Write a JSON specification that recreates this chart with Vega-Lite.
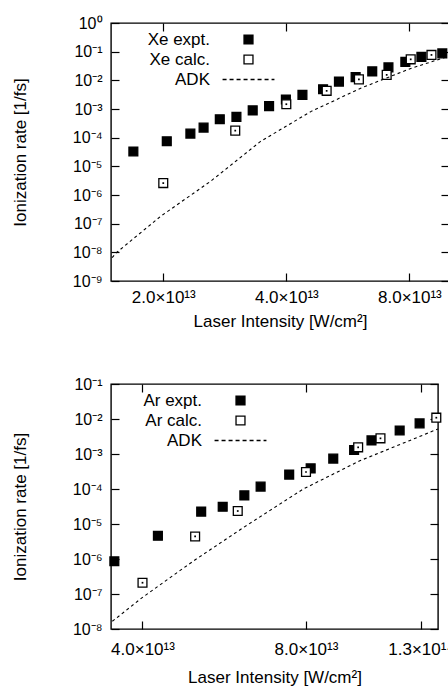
{
  "$schema": "https://vega.github.io/schema/vega-lite/v6.json",
  "padding": {"left": 10, "top": 14, "right": 0, "bottom": 0},
  "vconcat": [
    {
      "width": 338,
      "height": 258,
      "data": {"values": [
        {"I": 1.69e13, "rate": 3.3e-5, "series": "Xe expt."},
        {"I": 2.04e13, "rate": 7.5e-5, "series": "Xe expt."},
        {"I": 2.33e13, "rate": 1.39e-4, "series": "Xe expt."},
        {"I": 2.51e13, "rate": 2.25e-4, "series": "Xe expt."},
        {"I": 2.75e13, "rate": 4.4e-4, "series": "Xe expt."},
        {"I": 3.02e13, "rate": 5.3e-4, "series": "Xe expt."},
        {"I": 3.31e13, "rate": 9.0e-4, "series": "Xe expt."},
        {"I": 3.63e13, "rate": 1.26e-3, "series": "Xe expt."},
        {"I": 3.99e13, "rate": 2.15e-3, "series": "Xe expt."},
        {"I": 4.38e13, "rate": 3.1e-3, "series": "Xe expt."},
        {"I": 4.92e13, "rate": 4.9e-3, "series": "Xe expt."},
        {"I": 5.38e13, "rate": 9.0e-3, "series": "Xe expt."},
        {"I": 5.91e13, "rate": 1.3e-2, "series": "Xe expt."},
        {"I": 6.49e13, "rate": 2.06e-2, "series": "Xe expt."},
        {"I": 7.11e13, "rate": 2.84e-2, "series": "Xe expt."},
        {"I": 7.82e13, "rate": 4.4e-2, "series": "Xe expt."},
        {"I": 8.56e13, "rate": 6.6e-2, "series": "Xe expt."},
        {"I": 9.63e13, "rate": 8.7e-2, "series": "Xe expt."},
        {"I": 2.0e13, "rate": 2.6e-6, "series": "Xe calc."},
        {"I": 3.0e13, "rate": 1.76e-4, "series": "Xe calc."},
        {"I": 4.0e13, "rate": 1.47e-3, "series": "Xe calc."},
        {"I": 5.02e13, "rate": 4.3e-3, "series": "Xe calc."},
        {"I": 6.02e13, "rate": 1.08e-2, "series": "Xe calc."},
        {"I": 7.04e13, "rate": 1.55e-2, "series": "Xe calc."},
        {"I": 8.06e13, "rate": 5.4e-2, "series": "Xe calc."},
        {"I": 9.06e13, "rate": 7.7e-2, "series": "Xe calc."},
        {"I": 1.50e13, "rate": 6.5e-9, "series": "ADK"},
        {"I": 1.53e13, "rate": 9.3e-9, "series": "ADK"},
        {"I": 1.97e13, "rate": 1.8e-7, "series": "ADK"},
        {"I": 2.61e13, "rate": 3.0e-6, "series": "ADK"},
        {"I": 3.46e13, "rate": 7.4e-5, "series": "ADK"},
        {"I": 4.59e13, "rate": 8.1e-4, "series": "ADK"},
        {"I": 6.08e13, "rate": 5.3e-3, "series": "ADK"},
        {"I": 8.06e13, "rate": 2.6e-2, "series": "ADK"},
        {"I": 9.91e13, "rate": 6.7e-2, "series": "ADK"}
      ]},
      "layer": [
        {
          "transform": [{"filter": "datum.series != 'ADK'"}],
          "mark": {"type": "point", "filled": true, "size": 78, "strokeWidth": 1.3, "opacity": 1},
          "encoding": {
            "x": {"field": "I", "type": "quantitative", "scale": {"type": "log", "domain": [1.49e13, 1.0e14], "nice": false},
              "axis": {"orient": "bottom", "values": [2e13, 4e13, 8e13], "labelExpr": "format(datum.value/1e13, '.1f') + '×10¹³'", "ticks": false, "domain": false, "grid": false, "labelPadding": 8, "labelFont": "Liberation Sans", "labelFontSize": 17, "labelColor": "black", "title": "Laser Intensity [W/cm²]", "titleFont": "Liberation Sans", "titleFontSize": 17, "titleFontWeight": "normal", "titleColor": "black", "titlePadding": 8}},
            "y": {"field": "rate", "type": "quantitative", "scale": {"type": "log", "domain": [1e-9, 1], "nice": false},
              "axis": {"orient": "left", "values": [1e-9,1e-8,1e-7,1e-6,1e-5,1e-4,1e-3,1e-2,1e-1,1],
                "labelExpr": "'10' + replace(replace(replace(replace(replace(replace(replace(replace(replace(replace(replace('' + round(log(datum.value)/LN10), '-', '⁻'), '0', '⁰'), '1', '¹'), '2', '²'), '3', '³'), '4', '⁴'), '5', '⁵'), '6', '⁶'), '7', '⁷'), '8', '⁸'), '9', '⁹')",
                "ticks": false, "domain": false, "grid": false, "labelPadding": 9, "labelFont": "Liberation Sans", "labelFontSize": 16, "labelColor": "black", "title": "Ionization rate [1/fs]", "titleFont": "Liberation Sans", "titleFontSize": 17, "titleFontWeight": "normal", "titleColor": "black", "titlePadding": 43}},
            "shape": {"field": "series", "type": "nominal", "scale": {"domain": ["Xe expt.", "Xe calc.", "ADK"], "range": ["square", "square", "M-5.8,0H5.8"]}, "legend": {"title": null, "orient": "none", "legendX": 129, "legendY": 8, "labelAlign": "right", "labelOffset": -47, "labelFontSize": 17, "labelFont": "Liberation Sans", "labelColor": "black", "symbolSize": 80, "symbolStrokeWidth": 1.3, "rowPadding": 2, "padding": 0, "labelLimit": 200}},
            "fill": {"field": "series", "type": "nominal", "scale": {"domain": ["Xe expt.", "Xe calc.", "ADK"], "range": ["black", "white", "transparent"]}, "legend": {"title": null, "orient": "none", "legendX": 129, "legendY": 8, "labelAlign": "right", "labelOffset": -47, "labelFontSize": 17, "labelFont": "Liberation Sans", "labelColor": "black", "symbolSize": 80, "symbolStrokeWidth": 1.3, "rowPadding": 2, "padding": 0, "labelLimit": 200}},
            "stroke": {"field": "series", "type": "nominal", "scale": {"domain": ["Xe expt.", "Xe calc.", "ADK"], "range": ["black", "black", "black"]}, "legend": {"title": null, "orient": "none", "legendX": 129, "legendY": 8, "labelAlign": "right", "labelOffset": -47, "labelFontSize": 17, "labelFont": "Liberation Sans", "labelColor": "black", "symbolSize": 80, "symbolStrokeWidth": 1.3, "rowPadding": 2, "padding": 0, "labelLimit": 200}},
            "strokeDash": {"field": "series", "type": "nominal", "scale": {"domain": ["Xe expt.", "Xe calc.", "ADK"], "range": [[1, 0], [1, 0], [4, 3]]}, "legend": {"title": null, "orient": "none", "legendX": 129, "legendY": 8, "labelAlign": "right", "labelOffset": -47, "labelFontSize": 17, "labelFont": "Liberation Sans", "labelColor": "black", "symbolSize": 80, "symbolStrokeWidth": 1.3, "rowPadding": 2, "padding": 0, "labelLimit": 200}}
          }
        },
        {
          "transform": [{"filter": "datum.series == 'Xe calc.'"}],
          "mark": {"type": "point", "shape": "square", "filled": true, "size": 3, "color": "black", "opacity": 1},
          "encoding": {
            "x": {"field": "I", "type": "quantitative", "axis": null},
            "y": {"field": "rate", "type": "quantitative", "axis": null}
          }
        },
        {
          "transform": [{"filter": "datum.series == 'ADK'"}],
          "mark": {"type": "line", "color": "black", "strokeWidth": 1.1, "strokeDash": [3, 3], "clip": true},
          "encoding": {
            "x": {"field": "I", "type": "quantitative", "axis": {"orient": "bottom", "offset": -8, "tickSize": 8, "tickColor": "black", "tickWidth": 1.2, "domain": false, "labels": false, "grid": false, "title": null, "values": [2e13, 4e13, 8e13]}},
            "y": {"field": "rate", "type": "quantitative", "axis": {"orient": "left", "offset": -8, "tickSize": 8, "tickColor": "black", "tickWidth": 1.2, "domain": false, "labels": false, "grid": false, "title": null, "values": [1e-9,1e-8,1e-7,1e-6,1e-5,1e-4,1e-3,1e-2,1e-1,1]}}
          }
        },
        {
          "transform": [{"filter": "false"}],
          "mark": {"type": "point"},
          "encoding": {
            "x": {"field": "I", "type": "quantitative", "axis": {"orient": "top", "offset": -8, "tickSize": 8, "tickColor": "black", "tickWidth": 1.2, "domain": false, "labels": false, "grid": false, "title": null, "values": [2e13, 4e13, 8e13]}},
            "y": {"field": "rate", "type": "quantitative", "axis": {"orient": "right", "offset": -8, "tickSize": 8, "tickColor": "black", "tickWidth": 1.2, "domain": false, "labels": false, "grid": false, "title": null, "values": [1e-9,1e-8,1e-7,1e-6,1e-5,1e-4,1e-3,1e-2,1e-1,1]}}
          }
        }
      ],
      "resolve": {"axis": {"x": "independent", "y": "independent"}}
    },
    {
      "width": 327,
      "height": 245,
      "data": {"values": [
        {"I": 3.55e13, "rate": 8.6e-7, "series": "Ar expt."},
        {"I": 4.27e13, "rate": 4.6e-6, "series": "Ar expt."},
        {"I": 5.13e13, "rate": 2.25e-5, "series": "Ar expt."},
        {"I": 5.62e13, "rate": 3.1e-5, "series": "Ar expt."},
        {"I": 6.16e13, "rate": 6.6e-5, "series": "Ar expt."},
        {"I": 6.6e13, "rate": 1.17e-4, "series": "Ar expt."},
        {"I": 7.45e13, "rate": 2.57e-4, "series": "Ar expt."},
        {"I": 8.16e13, "rate": 3.9e-4, "series": "Ar expt."},
        {"I": 8.98e13, "rate": 7.4e-4, "series": "Ar expt."},
        {"I": 9.81e13, "rate": 1.3e-3, "series": "Ar expt."},
        {"I": 1.056e14, "rate": 2.46e-3, "series": "Ar expt."},
        {"I": 1.19e14, "rate": 4.7e-3, "series": "Ar expt."},
        {"I": 1.295e14, "rate": 7.5e-3, "series": "Ar expt."},
        {"I": 4.0e13, "rate": 2.1e-7, "series": "Ar calc."},
        {"I": 5.0e13, "rate": 4.4e-6, "series": "Ar calc."},
        {"I": 5.99e13, "rate": 2.35e-5, "series": "Ar calc."},
        {"I": 8.0e13, "rate": 3.06e-4, "series": "Ar calc."},
        {"I": 9.98e13, "rate": 1.55e-3, "series": "Ar calc."},
        {"I": 1.097e14, "rate": 2.8e-3, "series": "Ar calc."},
        {"I": 1.39e14, "rate": 1.09e-2, "series": "Ar calc."},
        {"I": 3.52e13, "rate": 1.66e-8, "series": "ADK"},
        {"I": 4.0e13, "rate": 8.0e-8, "series": "ADK"},
        {"I": 4.97e13, "rate": 8.9e-7, "series": "ADK"},
        {"I": 6.14e13, "rate": 8.0e-6, "series": "ADK"},
        {"I": 7.91e13, "rate": 1.0e-4, "series": "ADK"},
        {"I": 1.005e14, "rate": 6.4e-4, "series": "ADK"},
        {"I": 1.24e14, "rate": 2.4e-3, "series": "ADK"},
        {"I": 1.4e14, "rate": 5.2e-3, "series": "ADK"}
      ]},
      "layer": [
        {
          "transform": [{"filter": "datum.series != 'ADK'"}],
          "mark": {"type": "point", "filled": true, "size": 78, "strokeWidth": 1.3, "opacity": 1},
          "encoding": {
            "x": {"field": "I", "type": "quantitative", "scale": {"type": "log", "domain": [3.5e13, 1.4e14], "nice": false},
              "axis": {"orient": "bottom", "values": [4e13, 8e13, 1.3e14], "labelExpr": "datum.value >= 1e14 ? format(datum.value/1e14, '.1f') + '×10¹⁴' : format(datum.value/1e13, '.1f') + '×10¹³'", "labelFlush": true, "ticks": false, "domain": false, "grid": false, "labelPadding": 12, "labelFont": "Liberation Sans", "labelFontSize": 17, "labelColor": "black", "title": "Laser Intensity [W/cm²]", "titleFont": "Liberation Sans", "titleFontSize": 17, "titleFontWeight": "normal", "titleColor": "black", "titlePadding": 12}},
            "y": {"field": "rate", "type": "quantitative", "scale": {"type": "log", "domain": [1e-8, 1e-1], "nice": false},
              "axis": {"orient": "left", "values": [1e-8,1e-7,1e-6,1e-5,1e-4,1e-3,1e-2,1e-1],
                "labelExpr": "'10' + replace(replace(replace(replace(replace(replace(replace(replace(replace(replace(replace('' + round(log(datum.value)/LN10), '-', '⁻'), '0', '⁰'), '1', '¹'), '2', '²'), '3', '³'), '4', '⁴'), '5', '⁵'), '6', '⁶'), '7', '⁷'), '8', '⁸'), '9', '⁹')",
                "ticks": false, "domain": false, "grid": false, "labelPadding": 9, "labelFont": "Liberation Sans", "labelFontSize": 16, "labelColor": "black", "title": "Ionization rate [1/fs]", "titleFont": "Liberation Sans", "titleFontSize": 17, "titleFontWeight": "normal", "titleColor": "black", "titlePadding": 43}},
            "shape": {"field": "series", "type": "nominal", "scale": {"domain": ["Ar expt.", "Ar calc.", "ADK"], "range": ["square", "square", "M-5.8,0H5.8"]}, "legend": {"title": null, "orient": "none", "legendX": 121, "legendY": 8, "labelAlign": "right", "labelOffset": -47, "labelFontSize": 17, "labelFont": "Liberation Sans", "labelColor": "black", "symbolSize": 80, "symbolStrokeWidth": 1.3, "rowPadding": 2, "padding": 0, "labelLimit": 200}},
            "fill": {"field": "series", "type": "nominal", "scale": {"domain": ["Ar expt.", "Ar calc.", "ADK"], "range": ["black", "white", "transparent"]}, "legend": {"title": null, "orient": "none", "legendX": 121, "legendY": 8, "labelAlign": "right", "labelOffset": -47, "labelFontSize": 17, "labelFont": "Liberation Sans", "labelColor": "black", "symbolSize": 80, "symbolStrokeWidth": 1.3, "rowPadding": 2, "padding": 0, "labelLimit": 200}},
            "stroke": {"field": "series", "type": "nominal", "scale": {"domain": ["Ar expt.", "Ar calc.", "ADK"], "range": ["black", "black", "black"]}, "legend": {"title": null, "orient": "none", "legendX": 121, "legendY": 8, "labelAlign": "right", "labelOffset": -47, "labelFontSize": 17, "labelFont": "Liberation Sans", "labelColor": "black", "symbolSize": 80, "symbolStrokeWidth": 1.3, "rowPadding": 2, "padding": 0, "labelLimit": 200}},
            "strokeDash": {"field": "series", "type": "nominal", "scale": {"domain": ["Ar expt.", "Ar calc.", "ADK"], "range": [[1, 0], [1, 0], [4, 3]]}, "legend": {"title": null, "orient": "none", "legendX": 121, "legendY": 8, "labelAlign": "right", "labelOffset": -47, "labelFontSize": 17, "labelFont": "Liberation Sans", "labelColor": "black", "symbolSize": 80, "symbolStrokeWidth": 1.3, "rowPadding": 2, "padding": 0, "labelLimit": 200}}
          }
        },
        {
          "transform": [{"filter": "datum.series == 'Ar calc.'"}],
          "mark": {"type": "point", "shape": "square", "filled": true, "size": 3, "color": "black", "opacity": 1},
          "encoding": {
            "x": {"field": "I", "type": "quantitative", "axis": null},
            "y": {"field": "rate", "type": "quantitative", "axis": null}
          }
        },
        {
          "transform": [{"filter": "datum.series == 'ADK'"}],
          "mark": {"type": "line", "color": "black", "strokeWidth": 1.1, "strokeDash": [3, 3], "clip": true},
          "encoding": {
            "x": {"field": "I", "type": "quantitative", "axis": {"orient": "bottom", "offset": -8, "tickSize": 8, "tickColor": "black", "tickWidth": 1.2, "domain": false, "labels": false, "grid": false, "title": null, "values": [4e13, 8e13, 1.3e14]}},
            "y": {"field": "rate", "type": "quantitative", "axis": {"orient": "left", "offset": -8, "tickSize": 8, "tickColor": "black", "tickWidth": 1.2, "domain": false, "labels": false, "grid": false, "title": null, "values": [1e-8,1e-7,1e-6,1e-5,1e-4,1e-3,1e-2,1e-1]}}
          }
        },
        {
          "transform": [{"filter": "false"}],
          "mark": {"type": "point"},
          "encoding": {
            "x": {"field": "I", "type": "quantitative", "axis": {"orient": "top", "offset": -8, "tickSize": 8, "tickColor": "black", "tickWidth": 1.2, "domain": false, "labels": false, "grid": false, "title": null, "values": [4e13, 8e13, 1.3e14]}},
            "y": {"field": "rate", "type": "quantitative", "axis": {"orient": "right", "offset": -8, "tickSize": 8, "tickColor": "black", "tickWidth": 1.2, "domain": false, "labels": false, "grid": false, "title": null, "values": [1e-8,1e-7,1e-6,1e-5,1e-4,1e-3,1e-2,1e-1]}}
          }
        }
      ],
      "resolve": {"axis": {"x": "independent", "y": "independent"}}
    }
  ],
  "spacing": 45,
  "resolve": {
    "scale": {"shape": "independent", "fill": "independent", "stroke": "independent", "strokeDash": "independent"},
    "legend": {"shape": "independent", "fill": "independent", "stroke": "independent", "strokeDash": "independent"}
  },
  "config": {"view": {"stroke": "black", "strokeWidth": 1.4}}
}
